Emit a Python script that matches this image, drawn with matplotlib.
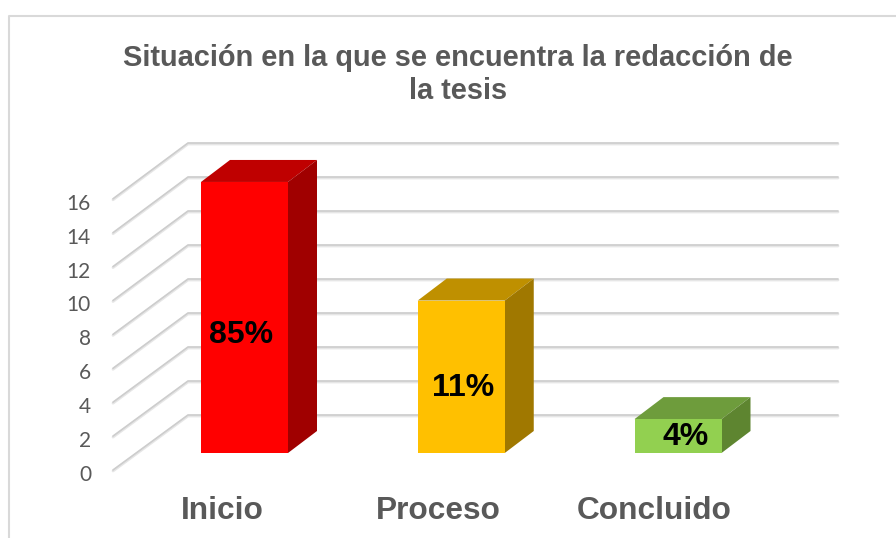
import matplotlib
matplotlib.use('Agg')
import matplotlib.pyplot as plt
from matplotlib.patches import Polygon

plt.rcParams['font.family'] = ['Liberation Sans', 'DejaVu Sans']

# datos
categorias = ['Inicio', 'Proceso', 'Concluido']
valores = [16, 9, 2]
etiquetas = ['85%', '11%', '4%']
ticks = [0, 2, 4, 6, 8, 10, 12, 14, 16]

titulo = 'Situación en la que se encuentra la redacción de\nla tesis'

# colores: frente, arriba, lado
col_frente = ['#ff0000', '#ffc000', '#92d050']
col_arriba = ['#bf0000', '#bf9000', '#6e9c3c']
col_lado = ['#a00000', '#a07800', '#5e8530']

W, H = 896, 538
fig = plt.figure(figsize=(W / 100, H / 100), dpi=100)
ax = fig.add_axes([0, 0, 1, 1])

# escala: categoria 0 en x=244.5 px, valor 0 en y=453 px
px_cat = 216.75
px_val = 16.94
ax.set_xlim((0 - 244.5) / px_cat, (W - 244.5) / px_cat)
ax.set_ylim((453 - H) / px_val, 453 / px_val)
ax.axis('off')

def dx(px):
    return px / px_cat

def dy(px):
    return px / px_val

# marco: solo arriba e izquierda, la imagen esta recortada
ax.plot([dx(9 - 244.5), dx(9 - 244.5), dx(W - 244.5)],
        [dy(453 - H), dy(453 - 16), dy(453 - 16)], color='#d9d9d9', lw=1.5, zorder=1)

# rejilla: pared del fondo y piso
x_ini = dx(113 - 244.5)
x_fondo = dx(188 - 244.5)
x_fin = dx(838 - 244.5)
for t in ticks:
    y_front = dy(453 - 470) + t * 33.9 / 2 / px_val
    y_back = dy(453 - 415) + t * 34 / 2 / px_val
    xs = [x_ini, x_fondo, x_fin]
    ys = [y_front, y_back, y_back]
    ax.plot(xs, [y - dy(1) for y in ys], color='#e6e6e6', lw=2.0, zorder=2, solid_capstyle='round')
    ax.plot(xs, ys, color='#cdcdcd', lw=1.2, zorder=3, solid_capstyle='round')
    ax.text(dx(91 - 244.5), y_front - dy(5), str(t), ha='right', va='center',
            fontsize=15, color='#595959', family=['Lato', 'DejaVu Sans'])

# barras
ancho = 87 / px_cat
prof_x = dx(29)
prof_y = dy(22)
for i, v in enumerate(valores):
    ax.bar(i, v, width=ancho, color=col_frente[i], zorder=6)
    x0 = i - ancho / 2
    x1 = i + ancho / 2
    ax.add_patch(Polygon([(x0, v), (x1, v), (x1 + prof_x, v + prof_y), (x0 + prof_x, v + prof_y)],
                         color=col_arriba[i], lw=0, zorder=5))
    ax.add_patch(Polygon([(x1, 0), (x1 + prof_x, prof_y), (x1 + prof_x, v + prof_y), (x1, v)],
                         color=col_lado[i], lw=0, zorder=5))

# etiquetas de las barras
lab_x = [-3.5, 2, 8]
lab_y = [6.95, 3.85, 0.95]
for i, e in enumerate(etiquetas):
    ax.text(i + dx(lab_x[i]), lab_y[i], e, ha='center', va='center', fontsize=23,
            fontweight='bold', color='black', zorder=7)

# categorias
cat_x = [222, 438.5, 654.5]
for i, c in enumerate(categorias):
    ax.text(dx(cat_x[i] - 244.5), dy(453 - 511), c, ha='center', va='center',
            fontsize=22.8, fontweight='bold', color='#595959', zorder=7)

ax.text(dx(458 - 244.5), dy(453 - 74.5), titulo, ha='center', va='center', fontsize=20.9,
        fontweight='bold', color='#595959', linespacing=1.2, zorder=7)

fig.savefig('out.png', dpi=100)
